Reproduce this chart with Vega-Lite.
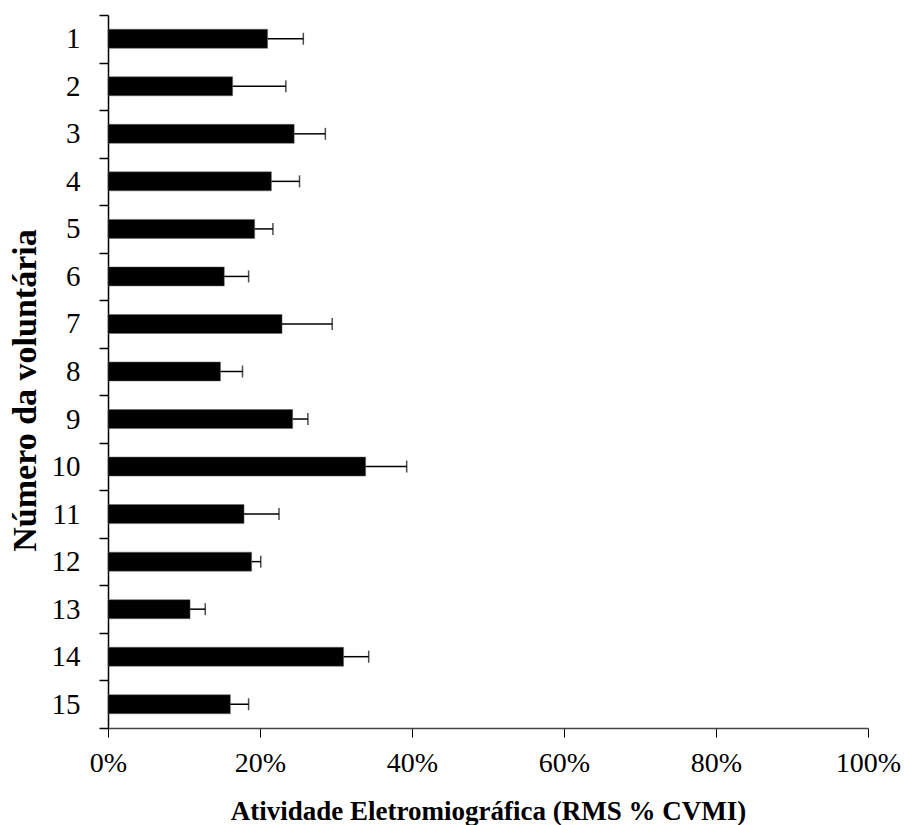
{
  "$schema": "https://vega.github.io/schema/vega-lite/v6.json",
  "width": 760,
  "height": 713,
  "autosize": {"type": "none"},
  "padding": {"left": 108, "top": 15, "right": 36, "bottom": 97},
  "background": "white",
  "config": {
    "view": {"stroke": null},
    "font": "Liberation Serif",
    "axis": {"labelFont": "Liberation Serif", "titleFont": "Liberation Serif", "labelColor": "black", "titleColor": "black"}
  },
  "data": {
    "values": [
      {"voluntaria": 1, "media": 21.0, "erro": 25.7},
      {"voluntaria": 2, "media": 16.4, "erro": 23.4},
      {"voluntaria": 3, "media": 24.5, "erro": 28.6},
      {"voluntaria": 4, "media": 21.5, "erro": 25.2},
      {"voluntaria": 5, "media": 19.3, "erro": 21.7},
      {"voluntaria": 6, "media": 15.3, "erro": 18.5},
      {"voluntaria": 7, "media": 22.9, "erro": 29.5},
      {"voluntaria": 8, "media": 14.8, "erro": 17.7},
      {"voluntaria": 9, "media": 24.3, "erro": 26.3},
      {"voluntaria": 10, "media": 33.9, "erro": 39.3},
      {"voluntaria": 11, "media": 17.9, "erro": 22.5},
      {"voluntaria": 12, "media": 18.9, "erro": 20.1},
      {"voluntaria": 13, "media": 10.8, "erro": 12.8},
      {"voluntaria": 14, "media": 31.0, "erro": 34.3},
      {"voluntaria": 15, "media": 16.1, "erro": 18.5}
    ]
  },
  "encoding": {
    "y": {
      "field": "voluntaria",
      "type": "ordinal",
      "sort": "ascending",
      "scale": {"paddingInner": 0, "paddingOuter": 0},
      "axis": {
        "title": "Número da voluntária",
        "titleFontSize": 34,
        "titleFontWeight": "bold",
        "titleAngle": 270,
        "titleBaseline": "alphabetic",
        "titleX": -73,
        "titleY": 375,
        "labelFontSize": 29,
        "labelAngle": 0,
        "labelPadding": 19,
        "tickBand": "extent",
        "tickSize": 9,
        "tickColor": "black",
        "tickWidth": 1.5,
        "domainColor": "black",
        "domainWidth": 1.5,
        "grid": false
      }
    }
  },
  "layer": [
    {
      "mark": {"type": "bar", "color": "black", "stroke": "#666", "strokeWidth": 0.5, "height": {"band": 0.4}},
      "encoding": {
        "x": {
          "field": "media",
          "type": "quantitative",
          "scale": {"domain": [0, 100], "nice": false},
          "axis": {
            "title": "Atividade Eletromiográfica (RMS % CVMI)",
            "titleFontSize": 27,
            "titleFontWeight": "bold",
            "titleBaseline": "alphabetic",
            "titleY": 91,
            "values": [0, 20, 40, 60, 80, 100],
            "labelExpr": "datum.value + '%'",
            "labelFontSize": 28,
            "labelPadding": 12,
            "tickSize": 9,
            "tickColor": "black",
            "tickWidth": 1,
            "domainColor": "#444",
            "domainWidth": 1.5,
            "grid": false,
            "labelFlush": false
          }
        }
      }
    },
    {
      "mark": {"type": "rule", "color": "black", "strokeWidth": 1.5},
      "encoding": {
        "x": {"field": "media", "type": "quantitative"},
        "x2": {"field": "erro"}
      }
    },
    {
      "mark": {"type": "tick", "color": "black", "thickness": 1.5, "size": 12, "orient": "vertical"},
      "encoding": {
        "x": {"field": "erro", "type": "quantitative"}
      }
    }
  ]
}
